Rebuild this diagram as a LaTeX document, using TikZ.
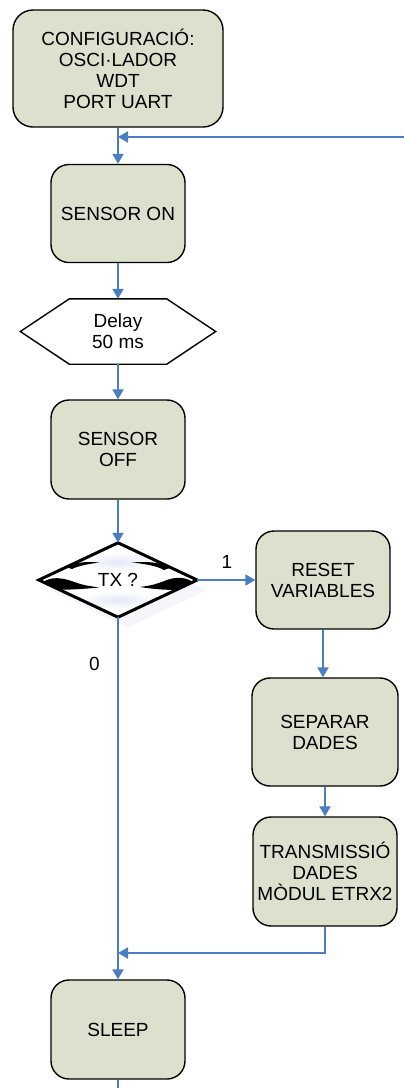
\documentclass[tikz,border=0pt]{standalone}
\usepackage{fontspec}
\setmainfont{Liberation Sans}
\usetikzlibrary{arrows.meta}
\definecolor{boxfill}{RGB}{221,224,204}
\definecolor{flowblue}{RGB}{74,126,193}
\definecolor{glowblue}{RGB}{226,232,246}
\definecolor{shadowgrey}{RGB}{244,246,250}
\pgfdeclarelayer{background}
\pgfsetlayers{background,main}
\begin{document}
\begin{tikzpicture}[x=1pt,y=-1pt,
  every node/.style={font=\fontsize{19}{21}\selectfont, align=center, inner sep=0pt, text=black},
  stepbox/.style={draw=black, line width=1.4pt, fill=boxfill, rounded corners=18pt},
  flow/.style={draw=flowblue, line width=2pt, -{Triangle[length=10pt,width=11pt]}},
  link/.style={draw=flowblue, line width=2pt},
  hexline/.style={draw=black, line width=1.4pt, line join=miter},
]
\useasboundingbox (0,0) rectangle (404,1088);

% process boxes of the main column
\node[stepbox, minimum width=210pt, minimum height=117pt, rounded corners=20pt] (cfg) at (118,68.5)
  {CONFIGURACIÓ:\\OSCI·LADOR\\WDT\\PORT UART};
\node[stepbox, minimum width=134pt, minimum height=98pt] (son) at (118,213.5) {SENSOR ON};

% delay hexagon
\node[minimum width=97pt, minimum height=65pt] (delay) at (118,331.5) {Delay\\50 ms};
\draw[hexline] (delay.north west) -- (delay.north east) -- ([xshift=49pt]delay.east)
  -- (delay.south east) -- (delay.south west) -- ([xshift=-49pt]delay.west) -- cycle;

\node[stepbox, minimum width=134pt, minimum height=99pt] (soff) at (118,449.5) {SENSOR\\OFF};

% decision diamond
\node[minimum width=158pt, minimum height=74pt] (tx) at (118,580) {TX ?};
\begin{pgfonlayer}{background}
  \fill[shadowgrey] ([shift={(10,10)}]tx.north) -- ([shift={(10,10)}]tx.east)
    -- ([shift={(10,10)}]tx.south) -- ([shift={(10,10)}]tx.west) -- cycle;
  \fill[white] (tx.north) -- (tx.east) -- (tx.south) -- (tx.west) -- cycle;
  \begin{scope}[shift={(tx.center)}]
    \clip (0,-37) -- (79,0) -- (0,37) -- (-79,0) -- cycle;
    \shade[inner color=glowblue, outer color=white] (0,-18) ellipse (40 and 9);
    \shade[inner color=glowblue, outer color=white] (0,20) ellipse (40 and 9);
    % bevel crescents
    \fill[black] (-75,2) .. controls (-66,-4) and (-55,-2) .. (-45,1.5)
      .. controls (-35,5) .. (-19,7.5) .. controls (-35,9) and (-50,10) .. (-60,9.5) -- cycle;
    \fill[black] (75,2) .. controls (66,-4) and (55,-3) .. (45,1.5)
      .. controls (35,5) .. (22,7) .. controls (35,9) and (50,10.5) .. (60,9.5) -- cycle;
    \fill[black] (-52,-13) .. controls (-40,-18.5) and (-30,-18.5) .. (-19,-17.5)
      .. controls (-30,-16) and (-40,-14) .. (-46,-11) -- cycle;
    \fill[black] (53,-12.5) .. controls (40,-18.5) and (28,-18.5) .. (14,-17.5)
      .. controls (28,-16) and (39,-14) .. (46,-10) -- cycle;
  \end{scope}
  \draw[black, line width=3pt, line join=miter] (tx.north) -- (tx.east) -- (tx.south) -- (tx.west) -- cycle;
\end{pgfonlayer}

% right column
\node[stepbox, minimum width=134pt, minimum height=98pt] (reset) at (323,580) {RESET\\VARIABLES};
\node[stepbox, minimum width=146pt, minimum height=108pt] (sep) at (325,732) {SEPARAR\\DADES};
\node[stepbox, minimum width=144pt, minimum height=109pt] (trans) at (325,871.5)
  {TRANSMISSIÓ\\DADES\\MÒDUL ETRX2};

\node[stepbox, minimum width=134pt, minimum height=99pt] (sleep) at (118,1029.5) {SLEEP};

% branch labels
\node (one) at (227,562) {1};
\node (zero) at (94.5,664) {0};

% connectors
\coordinate (ret) at (404,137);
\coordinate (merge) at (118,953);
\coordinate (exit) at (118,1088);
\draw[flow] (cfg) -- (son);
\draw[flow] (ret) -- (ret -| cfg);
\draw[flow] (son) -- (delay);
\draw[flow] (delay) -- (soff);
\draw[flow] (soff) -- (tx);
\draw[flow] (tx) -- (reset);
\draw[flow] (reset) -- (reset |- sep.north);
\draw[flow] (sep) -- (trans);
\draw[flow] (trans.south) |- (merge);
\draw[flow] (tx) -- (sleep);
\draw[link] (sleep) -- (exit);
\end{tikzpicture}
\end{document}
